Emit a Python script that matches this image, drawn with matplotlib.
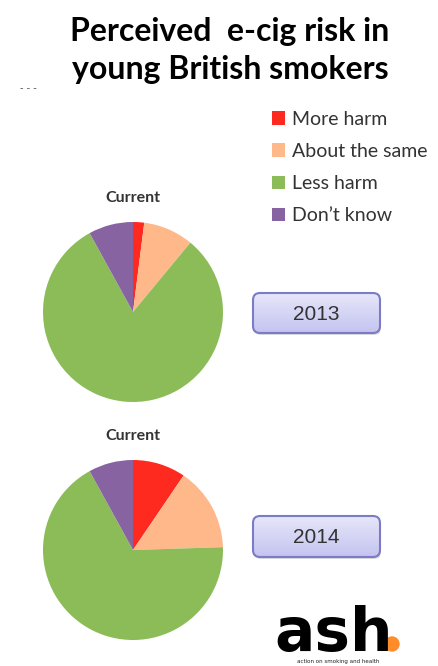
import numpy as np
import matplotlib
matplotlib.use("Agg")
import matplotlib.pyplot as plt
from matplotlib.patches import FancyBboxPatch, Circle

# data (percent)
categories = ["More harm", "About the same", "Less harm", "Don\u2019t know"]
share_2013 = [2, 9, 81, 8]
share_2014 = [9.5, 15, 67.5, 8]
years = ["2013", "2014"]
colors = ["#FF2A1F", "#FFB88A", "#8CBC58", "#8763A2"]

W, H = 438, 666
fig = plt.figure(figsize=(W / 100, H / 100), dpi=100)

# overlay axes in pixel coordinates (origin top-left)
ov = fig.add_axes([0, 0, 1, 1])
ov.set_xlim(0, W)
ov.set_ylim(H, 0)
ov.axis("off")


def px_axes(x, y, w, h):
    return fig.add_axes([x / W, 1 - (y + h) / H, w / W, h / H])


# title
ov.text(230, 31, "Perceived  e-cig risk in", ha="center", va="center",
        fontsize=23, fontweight="bold", family="Lato", color="black")
ov.text(230, 70, "young British smokers", ha="center", va="center",
        fontsize=23, fontweight="bold", family="Lato", color="black")
ov.text(28, 88, "- - -", ha="center", va="center", fontsize=7, color="#555555")

# pies
centers = [(133, 312), (133, 550)]
r = 90
wedges = None
for (cx, cy), vals in zip(centers, [share_2013, share_2014]):
    ax = px_axes(cx - r, cy - r, 2 * r, 2 * r)
    w, _ = ax.pie(vals, colors=colors, startangle=90, counterclock=False,
                  wedgeprops=dict(linewidth=0))
    ax.set_xlim(-1, 1)
    ax.set_ylim(-1, 1)
    ax.set_aspect("equal")
    ax.axis("off")
    wedges = w
    ov.text(cx, cy - r - 24, "Current", ha="center", va="center",
            fontsize=11.5, fontweight="bold", family="Lato", color="#333333")

# legend
fig.legend(wedges, categories, loc="upper left",
           bbox_to_anchor=(264 / W, 1 - 103 / H), frameon=False,
           handlelength=0.7, handleheight=0.7,
           handletextpad=0.35, labelspacing=0.78, borderaxespad=0,
           prop=dict(family="Lato", size=14), labelcolor="#333333")

# year boxes
boxes = [(253, 293, 127, 40), (253, 516, 127, 41)]
for (bx, by, bw, bh), yr in zip(boxes, years):
    shadow = FancyBboxPatch((bx + 1, by + 2), bw, bh,
                            boxstyle="round,pad=0,rounding_size=7",
                            fc="#bbbbbb", ec="none", alpha=0.5)
    ov.add_patch(shadow)
    box = FancyBboxPatch((bx, by), bw, bh,
                         boxstyle="round,pad=0,rounding_size=7",
                         fc="none", ec="#7B7BC6", lw=1.5, zorder=3)
    ov.add_patch(box)
    grad = np.linspace(0, 1, 64).reshape(-1, 1)
    im = ov.imshow(grad, cmap=matplotlib.colors.LinearSegmentedColormap.from_list(
        "g", ["#E6E6FA", "#C4C4F0"]), extent=(bx, bx + bw, by + bh, by),
        aspect="auto", zorder=2)
    im.set_clip_path(box)
    ov.text(bx + bw / 2, by + bh / 2 + 1, yr, ha="center", va="center",
            fontsize=15, family="Liberation Sans", color="#333333", zorder=4)
ov.set_xlim(0, W)
ov.set_ylim(H, 0)

# ash logo
ov.text(274, 651, "ash", ha="left", va="baseline", fontsize=43,
        fontweight="heavy", family="DejaVu Sans", color="black")
ov.add_patch(Circle((392, 644), 7, color="#FF8C2A"))
ov.text(338, 661.5, "action on smoking and health", ha="center", va="center",
        fontsize=4, family="DejaVu Sans", color="#222222")

fig.savefig("out.png", dpi=100)
